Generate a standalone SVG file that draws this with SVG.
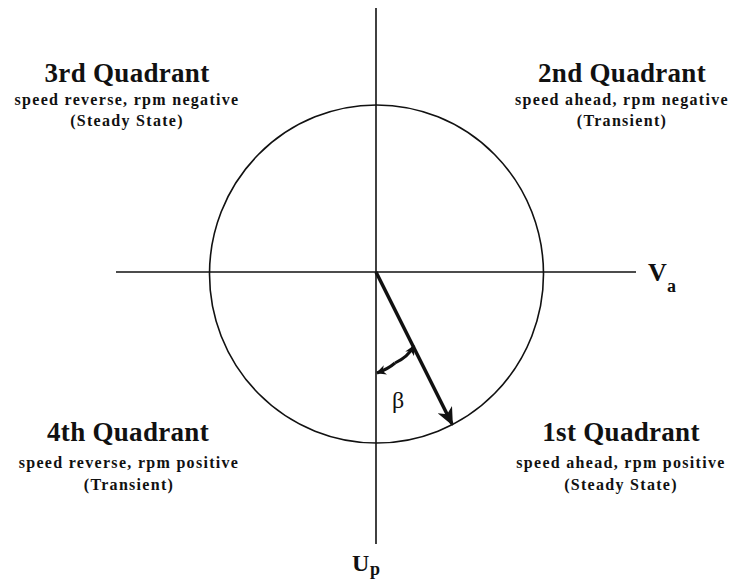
<svg xmlns="http://www.w3.org/2000/svg" width="732" height="586" viewBox="0 0 732 586">
<style>
.t{font-family:"Liberation Serif","Times New Roman",serif;font-weight:bold;fill:#111;text-anchor:middle}
.h{font-size:27px;letter-spacing:0.3px}
.s{font-size:16px;letter-spacing:1.3px}
.ln{stroke:#111;stroke-width:1.6;fill:none}
</style>
<defs>
<marker id="ah" markerWidth="10" markerHeight="10" refX="9" refY="5" orient="auto" markerUnits="userSpaceOnUse" viewBox="0 0 10 10"><path d="M0,0 L10,5 L0,10 L3,5 Z" fill="#111"/></marker>
<marker id="big" markerWidth="18" markerHeight="16" refX="16" refY="8" orient="auto" markerUnits="userSpaceOnUse" viewBox="0 0 18 16"><path d="M0,0 L18,8 L0,16 L5,8 Z" fill="#111"/></marker>
</defs>
<rect width="732" height="586" fill="#fff"/>
<g id="axes">
<ellipse class="ln" cx="376.5" cy="274" rx="167" ry="169"/>
<line class="ln" x1="116" y1="272" x2="636" y2="272"/>
<line class="ln" x1="376" y1="8" x2="376" y2="544"/>
</g>
<g id="connectors">
<line x1="376" y1="272" x2="452" y2="424" stroke="#111" stroke-width="3.5" marker-end="url(#big)"/>
<path d="M395,363 Q408,357 414,346" stroke="#111" stroke-width="3" fill="none" marker-end="url(#ah)"/>
<path d="M395,363 Q388,369 377,373" stroke="#111" stroke-width="3" fill="none" marker-end="url(#ah)"/>
</g>
<g id="q3"><text class="t h" x="127" y="82">3rd Quadrant</text><text class="t s" x="127" y="105">speed reverse, rpm negative</text><text class="t s" x="127" y="126">(Steady State)</text></g>
<g id="q2"><text class="t h" x="622" y="82">2nd Quadrant</text><text class="t s" x="622" y="105">speed ahead, rpm negative</text><text class="t s" x="622" y="126">(Transient)</text></g>
<g id="q4"><text class="t h" x="128" y="441">4th Quadrant</text><text class="t s" x="129" y="468">speed reverse, rpm positive</text><text class="t s" x="129" y="490">(Transient)</text></g>
<g id="q1"><text class="t h" x="621" y="441">1st Quadrant</text><text class="t s" x="621" y="468">speed ahead, rpm positive</text><text class="t s" x="621" y="490">(Steady State)</text></g>
<g id="va"><text class="t" style="font-size:26px;text-anchor:start" x="648" y="281">V</text><text class="t" style="font-size:18px;text-anchor:start" x="667" y="292">a</text></g>
<g id="up"><text class="t" style="font-size:24px;text-anchor:start" x="352" y="571">U</text><text class="t" style="font-size:18px;text-anchor:start" x="370" y="575">p</text></g>
<g id="beta"><text style="font-family:'Liberation Serif',serif;font-size:24px;fill:#111" x="392" y="408">β</text></g>
</svg>
